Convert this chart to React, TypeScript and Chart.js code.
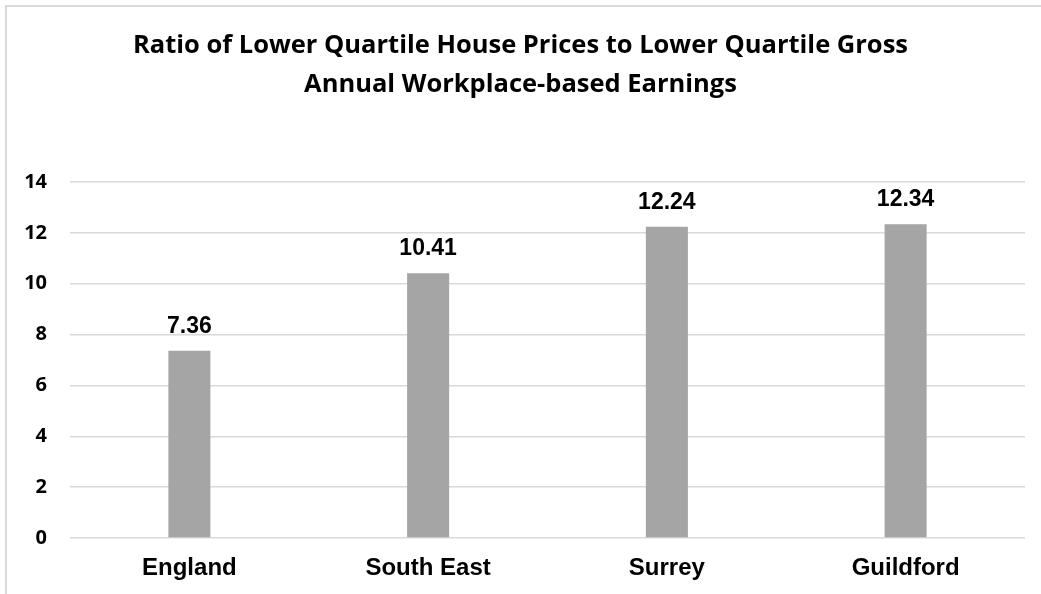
import React, { useEffect, useRef } from "react";
import { Chart, registerables } from "chart.js";

Chart.register(...registerables);

const titleLines = [
  "Ratio of Lower Quartile House Prices to Lower Quartile Gross",
  "Annual Workplace-based Earnings",
];
const categories = ["England", "South East", "Surrey", "Guildford"];
const ratioValues = [7.36, 10.41, 12.24, 12.34];
const yTickMin = 0;
const yTickMax = 14;
const yTickStep = 2;

const dataLabelPlugin = {
  id: "dataLabels",
  afterDatasetsDraw(chart: any) {
    const ctx = chart.ctx;
    const meta = chart.getDatasetMeta(0);
    const ds = chart.data.datasets[0];
    ctx.save();
    ctx.font = "bold 23px 'Liberation Sans', Arial, sans-serif";
    ctx.fillStyle = "#000000";
    ctx.textAlign = "center";
    ctx.textBaseline = "alphabetic";
    meta.data.forEach((bar: any, i: number) => {
      ctx.fillText(Number(ds.data[i]).toFixed(2), bar.x, bar.y - 18);
    });
    ctx.restore();
  },
};

export default function App() {
  const canvasRef = useRef<HTMLCanvasElement | null>(null);

  useEffect(() => {
    if (!canvasRef.current) return;
    const chart = new Chart(canvasRef.current, {
      type: "bar",
      data: {
        labels: categories,
        datasets: [
          {
            data: ratioValues,
            backgroundColor: "#a5a5a5",
            borderWidth: 0,
            barPercentage: 0.176,
            categoryPercentage: 1,
          },
        ],
      },
      options: {
        animation: false,
        responsive: true,
        maintainAspectRatio: false,
        layout: { padding: { top: 0, left: 16, right: 16, bottom: 0 } },
        plugins: {
          legend: { display: false },
          tooltip: { enabled: false },
          title: {
            display: true,
            text: titleLines,
            color: "#000000",
            font: { family: "'Open Sans', sans-serif", size: 25.5, weight: "bold", lineHeight: "39px" },
            padding: { top: 26, bottom: 78 },
          },
        },
        scales: {
          x: {
            grid: { display: false },
            border: { display: false },
            ticks: {
              color: "#000000",
              padding: 8,
              font: { family: "'Liberation Sans', Arial, sans-serif", size: 24, weight: "bold" },
            },
            afterFit: (scale: any) => {
              scale.height = 56;
            },
          },
          y: {
            min: yTickMin,
            max: yTickMax,
            grid: { color: "#d9d9d9", lineWidth: 1.5, drawTicks: false },
            border: { display: false },
            ticks: {
              stepSize: yTickStep,
              color: "#000000",
              padding: 23,
              font: { family: "'Open Sans', sans-serif", size: 20, weight: "bold" },
            },
            afterFit: (scale: any) => {
              scale.width = 54;
            },
          },
        },
      },
      plugins: [dataLabelPlugin],
    });
    return () => chart.destroy();
  }, []);

  return (
    <>
      <div
        style={{
          position: "fixed",
          left: 0,
          top: 0,
          width: 1041,
          height: 594,
          background: "#ffffff",
        }}
      >
        <canvas ref={canvasRef} />
      </div>
      <div
        style={{
          position: "fixed",
          left: 5,
          top: 5,
          width: 1200,
          height: 800,
          border: "2px solid #d9d9d9",
          pointerEvents: "none",
          boxSizing: "border-box",
        }}
      />
    </>
  );
}
